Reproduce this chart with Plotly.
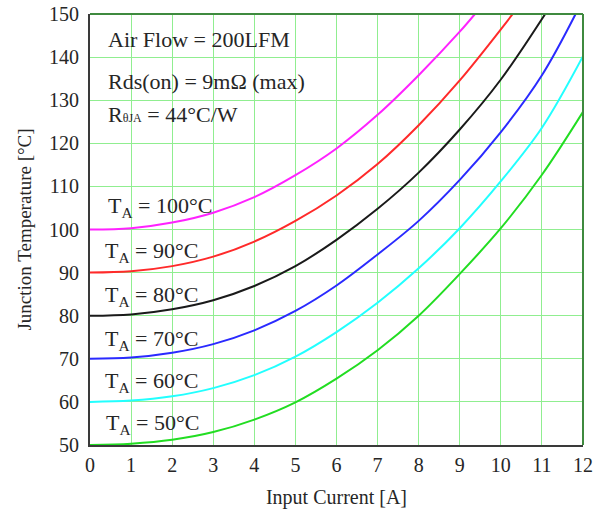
import plotly.graph_objects as go

# Input current (A) sample points
current = [0, 1, 2, 3, 4, 5, 6, 7, 8, 9, 10, 11, 12]

# Junction temperature (°C) for each ambient temperature; the upper curves stop where they reach 150 °C
tj_50 = [50, 50.3, 51.2, 53.0, 55.9, 59.9, 65.4, 72.0, 80.0, 89.7, 100.3, 112.7, 127.3]
tj_60 = [60, 60.3, 61.3, 63.2, 66.2, 70.5, 76.2, 83.0, 91.0, 100.3, 111.2, 123.6, 140.2]
tj_70 = [70, 70.3, 71.4, 73.4, 76.6, 81.1, 87.0, 94.2, 102.0, 111.5, 122.6, 135.8, 150]
tj_80 = [80, 80.3, 81.5, 83.6, 86.9, 91.5, 97.6, 104.8, 113.2, 123.2, 134.8, 150]
tj_90 = [90, 90.3, 91.5, 93.7, 97.2, 102.0, 107.9, 115.2, 124.2, 134.6, 150]
tj_100 = [100, 100.3, 101.6, 103.9, 107.5, 112.6, 118.8, 126.6, 135.8, 145.9, 150]

# Current at which each upper curve reaches 150 °C
exit_70 = 11.82
exit_80 = 11.08
exit_90 = 10.29
exit_100 = 9.37

ambient = [100, 90, 80, 70, 60, 50]
series = [
    (current[:10] + [exit_100], tj_100, "#ff22ff"),
    (current[:10] + [exit_90], tj_90, "#ff2a2a"),
    (current[:11] + [exit_80], tj_80, "#1a1a1a"),
    (current[:12] + [exit_70], tj_70, "#2a2aff"),
    (current, tj_60, "#22ffff"),
    (current, tj_50, "#22dd22"),
]
label_x = [0.38, 0.32, 0.32, 0.32, 0.32, 0.35]
label_y = [105.2, 94.8, 84.6, 74.4, 64.6, 54.8]

x_ticks = list(range(0, 13))
y_ticks = list(range(50, 151, 10))

SERIF = "Liberation Serif, Times New Roman, serif"
TXT = "#262626"

fig = go.Figure()
for (xs, ys, color) in series:
    fig.add_trace(go.Scatter(
        x=xs, y=ys, mode="lines",
        line=dict(color=color, width=2, shape="spline", smoothing=1.0),
        hoverinfo="skip", showlegend=False,
    ))

for ta, lx, ly in zip(ambient, label_x, label_y):
    fig.add_annotation(
        x=lx, y=ly, xref="x", yref="y", xanchor="left", yanchor="middle",
        text=f"T<sub>A</sub> = {ta}°C", showarrow=False,
        font=dict(family=SERIF, size=22, color=TXT),
    )

notes = [
    ("Air Flow = 200LFM", 0.40, 144.2),
    ("Rds(on) = 9mΩ (max)", 0.40, 134.4),
    ("R<span style='font-size:12px'>θJA</span> = 44°C/W", 0.40, 126.6),
]
for txt, nx, ny in notes:
    fig.add_annotation(
        x=nx, y=ny, xref="x", yref="y", xanchor="left", yanchor="middle",
        text=txt, showarrow=False,
        font=dict(family=SERIF, size=22, color=TXT),
    )

# top and right frame edges in dark green
fig.add_shape(type="line", xref="paper", yref="paper", x0=0, x1=1, y0=1, y1=1,
              line=dict(color="#3f8a3f", width=2), layer="above")
fig.add_shape(type="line", xref="paper", yref="paper", x0=1, x1=1, y0=0, y1=1,
              line=dict(color="#3f8a3f", width=2), layer="above")

fig.update_xaxes(
    range=[0, 12], tickvals=x_ticks, ticktext=[str(v) for v in x_ticks],
    showgrid=True, gridcolor="#90ee90", gridwidth=1,
    showline=True, linecolor="#3a3a3a", linewidth=2, zeroline=False,
    ticks="", ticklabelstandoff=1, automargin=False,
    tickfont=dict(family=SERIF, size=20, color=TXT),
    title=dict(text="Input Current [A]", font=dict(family=SERIF, size=20, color=TXT), standoff=15),
)
fig.update_yaxes(
    range=[50, 150], tickvals=y_ticks, ticktext=[str(v) for v in y_ticks],
    showgrid=True, gridcolor="#90ee90", gridwidth=1,
    showline=True, linecolor="#3a3a3a", linewidth=2, zeroline=False,
    ticks="", ticklabelstandoff=5, automargin=False,
    tickfont=dict(family=SERIF, size=20, color=TXT),
    title=dict(text="Junction Temperature [°C]", font=dict(family=SERIF, size=19, color=TXT), standoff=12),
)

fig.update_layout(
    width=607, height=512,
    margin=dict(l=90, r=24, t=14, b=67),
    paper_bgcolor="white", plot_bgcolor="white",
)

fig.write_html("out.html")
